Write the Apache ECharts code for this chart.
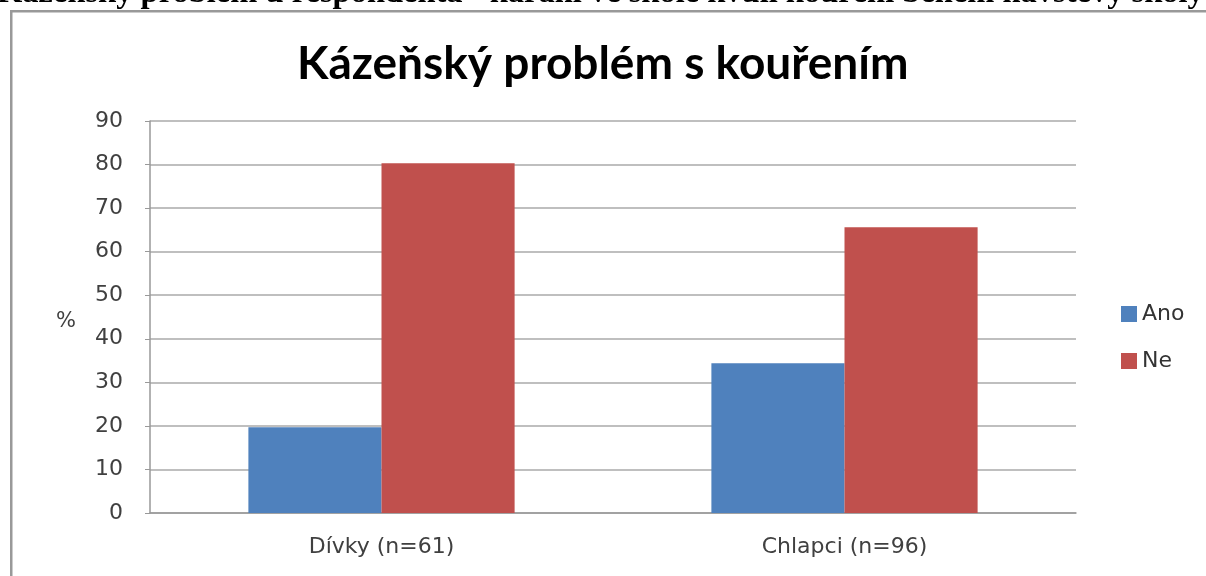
<!DOCTYPE html>
<html>
<head>
<meta charset="utf-8">
<script src="https://cdn.jsdelivr.net/npm/echarts@6/dist/echarts.min.js"></script>
<style>
  html, body { margin: 0; padding: 0; background: #fff; }
  #chart { width: 1206px; height: 576px; }
</style>
</head>
<body>
<div id="chart"></div>
<script>
// data
const categories = ['Dívky (n=61)', 'Chlapci (n=96)']
const anoValues = [19.7, 34.4]
const neValues = [80.3, 65.6]
const seriesNames = ['Ano', 'Ne']
const yMin = 0
const yMax = 90
const yStep = 10

const headerText = 'Kázeňský problém u respondenta - kárání ve škole kvůli kouření během návštěvy školy'
const titleText = 'Kázeňský problém s kouřením'

const chart = echarts.init(document.getElementById('chart'))

const labelFont = { color: '#404040', fontSize: 22, fontFamily: 'DejaVu Sans' }

chart.setOption({
  animation: false,
  color: ['#4F81BD', '#C0504D'],
  title: {
    text: titleText,
    left: 292,
    top: 36,
    textStyle: { fontFamily: 'Lato', fontWeight: 'bold', fontSize: 46, color: '#000' }
  },
  graphic: [
    {
      type: 'text',
      left: -3,
      top: -23,
      style: {
        text: headerText,
        fontFamily: 'Liberation Serif',
        fontWeight: 'bold',
        fontSize: 32.5,
        fill: '#000'
      }
    },
    // frame of the chart area (only top and left edges are in view)
    {
      type: 'rect',
      shape: { x: 10, y: 10, width: 1196, height: 2.5 },
      style: { fill: '#999' },
      silent: true,
      z: 100
    },
    {
      type: 'rect',
      shape: { x: 10, y: 10, width: 2.5, height: 566 },
      style: { fill: '#999' },
      silent: true,
      z: 100
    },
    {
      type: 'text',
      left: 56,
      top: 311,
      style: { text: '%', fontFamily: 'DejaVu Sans', fontSize: 21, fill: '#404040' }
    }
  ],
  legend: {
    orient: 'vertical',
    left: 1116,
    top: 298,
    itemWidth: 16,
    itemHeight: 16,
    itemGap: 25,
    icon: 'rect',
    textStyle: { fontFamily: 'DejaVu Sans', fontSize: 22, lineHeight: 22, color: '#333' },
    data: seriesNames
  },
  grid: { left: 150, right: 130, top: 121, bottom: 63, containLabel: false },
  xAxis: {
    type: 'category',
    data: categories,
    axisLine: { lineStyle: { color: '#999', width: 1.5 } },
    axisTick: { show: false },
    axisLabel: Object.assign({ margin: 23 }, labelFont)
  },
  yAxis: {
    type: 'value',
    min: yMin,
    max: yMax,
    interval: yStep,
    axisLine: { show: true, lineStyle: { color: '#999', width: 1.5 } },
    axisTick: { show: true, length: 5, inside: false, lineStyle: { color: '#999' } },
    splitLine: { lineStyle: { color: '#aaa', width: 1.5 } },
    axisLabel: Object.assign({ margin: 27 }, labelFont)
  },
  series: [
    {
      name: seriesNames[0],
      type: 'bar',
      data: anoValues,
      barGap: '0%',
      barCategoryGap: '42.5%'
    },
    {
      name: seriesNames[1],
      type: 'bar',
      data: neValues,
      barGap: '0%',
      barCategoryGap: '42.5%'
    }
  ]
})
</script>
</body>
</html>
